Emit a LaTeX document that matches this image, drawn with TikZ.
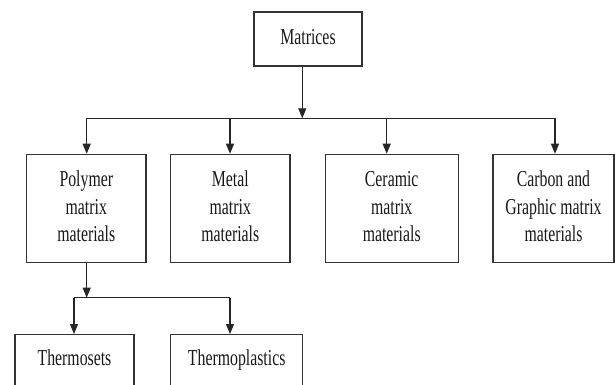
\documentclass[tikz,border=0pt]{standalone}
\usepackage{fontspec}
\setmainfont{Liberation Serif}
\usepackage{graphicx}
\usetikzlibrary{arrows.meta}
\newcommand{\tx}[1]{\scalebox{1}[1.44]{\fontsize{15.8}{19.1}\selectfont\begin{tabular}{@{}c@{}}#1\end{tabular}}}
\begin{document}
\begin{tikzpicture}[x=1pt,y=-1pt,
  box/.style={draw=black!80, line width=1.1pt, inner sep=0pt, align=center, text=black!90},
  arr/.style={-{Triangle[length=10pt,width=8pt]}, draw=black!85, line width=1.1pt},
  ln/.style={draw=black!85, line width=1.1pt}]
\useasboundingbox (0,0) rectangle (616,385);
\clip (0,0) rectangle (616,385);
\fill[white] (0,0) rectangle (616,385);
\node[box, minimum width=108pt, minimum height=54pt] (mat) at (308,39) {\tx{Matrices}};
\node[box, minimum width=119.3pt, minimum height=108.4pt] (poly) at (86.3,208.5) {\tx{Polymer\\matrix\\materials}};
\node[box, minimum width=119.3pt, minimum height=108.4pt] (metal) at (230.3,208.5) {\tx{Metal\\matrix\\materials}};
\node[box, minimum width=132.7pt, minimum height=108.4pt] (cer) at (391.7,208.5) {\tx{Ceramic\\matrix\\materials}};
\node[box, minimum width=121pt, minimum height=108.4pt] (carb) at (553.5,208.5) {\tx{Carbon and\\Graphic matrix\\materials}};
\node[box, anchor=north, minimum width=119pt, text height=31pt, text depth=60pt] (tset) at (74.5,334) {\tx{Thermosets}};
\node[box, anchor=north, minimum width=132pt, text height=31pt, text depth=60pt] (tplast) at (236.7,334) {\tx{Thermoplastics}};
\coordinate (b0) at (302.3,118.3);
\coordinate (b1) at (86.7,118.3);
\coordinate (b2) at (230,118.3);
\coordinate (b3) at (386.7,118.3);
\coordinate (b4) at (555,118.3);
\draw[arr] (mat.south -| b0) -- (b0);
\draw[ln] (b1) -- (b4);
\draw[arr] (b1) -- (b1 |- poly.north);
\draw[arr] (b2) -- (b2 |- metal.north);
\draw[arr] (b3) -- (b3 |- cer.north);
\draw[arr] (b4) -- (b4 |- carb.north);
\coordinate (c0) at (86.7,297.7);
\coordinate (c1) at (74,297.7);
\coordinate (c2) at (230,297.7);
\draw[arr] (poly.south -| c0) -- (c0);
\draw[ln] (c1) -- (c2);
\draw[arr] (c1) -- (c1 |- tset.north);
\draw[arr] (c2) -- (c2 |- tplast.north);
\end{tikzpicture}
\end{document}
